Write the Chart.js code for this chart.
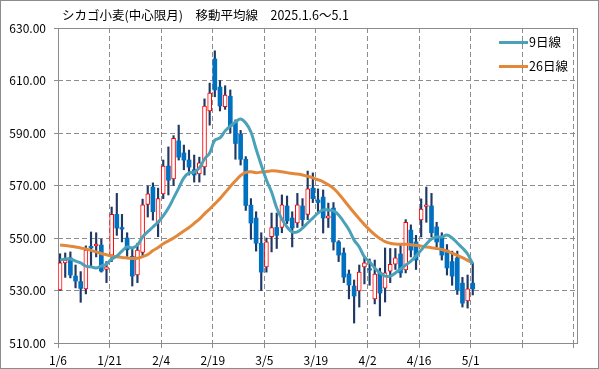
<!DOCTYPE html>
<html>
<head>
<meta charset="utf-8">
<script src="https://cdn.jsdelivr.net/npm/chart.js@4.4.1/dist/chart.umd.min.js"></script>
<style>
  html, body { margin: 0; padding: 0; background: #fff; }
  #wrap { width: 599px; height: 369px; box-sizing: border-box; border: 1px solid #8c8c8c; }
  canvas { display: block; }
</style>
</head>
<body>
<div id="wrap"><canvas id="chart" width="597" height="367"></canvas></div>
<script>
// tick labels, one every 10 trading days (last two gridlines have no label)
var xLabels = ['1/6', '1/21', '2/4', '2/19', '3/5', '3/19', '4/2', '4/16', '5/1', '', ''];
var yTicks = [510, 530, 550, 570, 590, 610, 630];

// daily candles, 1/6 .. 5/1
var opens = [530.2, 540.5, 542.4, 535.5, 533.4, 530.6, 546.8, 547.0, 547.3, 538.0,
  543.5, 559.0, 554.0, 550.0, 543.0, 535.9, 544.5, 562.8, 569.4, 555.7,
  566.8, 577.4, 572.5, 587.0, 582.4, 579.7, 576.0, 574.4, 577.1, 598.4,
  618.2, 607.5, 600.0, 604.0, 594.0, 589.5, 580.0, 562.5, 557.6, 548.0,
  539.0, 550.5, 554.0, 554.0, 562.2, 557.6, 555.7, 562.2, 559.0, 569.0,
  564.5, 565.6, 557.6, 561.4, 548.5, 544.3, 536.3, 531.7, 529.8, 539.0,
  538.3, 526.8, 537.0, 530.9, 537.4, 540.0, 543.9, 537.8, 553.0, 548.5,
  556.9, 562.0, 562.2, 554.2, 550.4, 545.4, 541.0, 542.4, 532.8, 526.0,
  532.8];
var highs = [544.0, 544.3, 544.7, 539.7, 537.2, 547.0, 552.3, 552.0, 549.6, 541.0,
  561.8, 567.0, 559.0, 552.0, 546.0, 548.0, 564.8, 569.8, 571.0, 569.0,
  579.7, 584.7, 589.0, 593.0, 585.4, 583.5, 581.6, 580.8, 603.0, 609.0,
  621.3, 610.0, 608.0, 606.4, 595.0, 591.0, 581.0, 565.0, 560.0, 552.0,
  550.0, 559.5, 559.5, 566.4, 566.0, 560.0, 567.0, 565.0, 575.5, 574.8,
  568.7, 568.3, 563.3, 563.5, 549.0, 546.2, 537.8, 534.0, 539.7, 542.8,
  542.0, 541.6, 538.5, 546.2, 546.0, 546.0, 547.3, 557.0, 555.0, 551.0,
  564.9, 569.4, 567.0, 556.0, 552.0, 547.5, 545.0, 545.0, 535.0, 535.9,
  540.5];
var lows = [530.0, 535.0, 534.8, 531.0, 525.5, 528.7, 539.0, 542.8, 537.0, 533.0,
  541.0, 551.0, 548.5, 543.0, 531.7, 533.0, 543.0, 558.0, 556.8, 550.5,
  565.0, 566.4, 570.0, 579.7, 576.0, 574.0, 571.3, 571.3, 574.0, 593.0,
  603.8, 598.4, 599.0, 590.0, 580.0, 577.8, 560.5, 549.5, 545.0, 530.0,
  537.0, 544.7, 546.0, 552.0, 555.5, 546.6, 554.0, 554.5, 557.0, 563.5,
  560.0, 551.9, 554.0, 545.4, 541.0, 533.0, 526.8, 517.6, 523.7, 532.5,
  532.0, 524.9, 520.3, 525.6, 533.0, 538.0, 535.0, 536.7, 542.8, 538.0,
  550.4, 556.0, 550.4, 546.5, 541.6, 535.9, 532.0, 528.5, 523.7, 523.3,
  528.3];
var closes = [540.5, 541.6, 535.9, 533.6, 530.8, 545.4, 546.2, 547.7, 537.4, 539.0,
  559.0, 553.8, 553.4, 545.5, 535.5, 545.4, 562.6, 566.8, 560.0, 565.0,
  577.4, 572.0, 588.0, 580.8, 579.7, 577.0, 574.0, 578.6, 600.3, 605.2,
  606.4, 600.3, 604.4, 592.5, 586.0, 580.0, 562.4, 555.7, 548.0, 537.0,
  548.5, 554.0, 551.0, 562.6, 556.5, 553.8, 562.6, 557.0, 568.7, 565.0,
  563.5, 557.6, 558.4, 548.5, 543.5, 535.1, 532.1, 527.9, 537.0, 540.5,
  537.8, 536.3, 529.0, 536.7, 540.0, 542.4, 536.7, 556.0, 545.4, 541.6,
  561.0, 562.6, 552.0, 548.5, 543.5, 538.6, 535.5, 530.2, 525.2, 530.6,
  530.6];

// moving averages
var ma9 = [541.6, 542.0, 542.0, 541.2, 540.5, 539.3, 539.0, 538.6, 539.3, 540.1,
  542.0, 543.1, 545.0, 546.6, 546.2, 547.3, 550.4, 552.4, 554.2, 556.1,
  558.4, 561.4, 565.2, 569.0, 572.9, 574.8, 575.1, 576.7, 580.1, 582.4,
  587.3, 588.1, 590.8, 592.7, 594.2, 595.3, 593.8, 590.4, 583.9, 577.8,
  572.1, 567.5, 561.4, 557.2, 554.2, 552.3, 552.3, 553.8, 555.7, 557.6,
  559.5, 560.7, 560.7, 560.3, 558.8, 556.1, 553.1, 549.2, 546.6, 542.8,
  540.9, 538.6, 536.7, 535.5, 535.5, 536.7, 538.2, 539.7, 541.2, 543.1,
  545.4, 547.7, 549.6, 550.4, 550.4, 551.1, 550.0, 548.1, 546.2, 543.9,
  540.1];
var ma26 = [547.3, 547.1, 546.9, 546.6, 546.2, 545.8, 545.3, 544.7, 544.1, 543.6,
  543.1, 542.9, 542.6, 542.4, 542.2, 542.3, 542.9, 543.7, 545.2, 546.4,
  547.8, 548.9, 550.0, 551.3, 552.7, 554.0, 555.6, 557.2, 559.2, 561.0,
  563.0, 565.0, 567.3, 569.6, 571.8, 573.8, 575.0, 575.2, 574.9, 575.1,
  575.3, 575.6, 575.5, 575.2, 574.9, 574.6, 574.4, 574.0, 573.5, 572.9,
  572.2, 571.4, 570.3, 568.9, 566.9, 564.5, 562.0, 559.6, 557.3, 555.1,
  553.1, 551.3, 549.8, 548.6, 548.0, 547.7, 547.6, 547.6, 547.4, 547.2,
  546.9, 546.6, 546.3, 546.0, 545.6, 545.0, 544.2, 543.4, 542.5, 541.5,
  540.5];

var RED = '#ff0000', BLUE = '#0070c0', WICK = '#1f3864';
var TEAL = '#4ba1b8', ORANGE = '#e3883a', GRID = '#8c8c8c';
var FONT = '"Noto Sans CJK JP", "Liberation Sans", sans-serif';

var wicks = [], bodies = [], bodyFill = [], bodyLine = [], bodyBorder = [];
var line9 = [], line26 = [];
for (var i = 0; i < opens.length; i++) {
  var up = closes[i] >= opens[i];
  wicks.push({x: i, y: [lows[i], highs[i]]});
  bodies.push({x: i, y: [opens[i], closes[i]]});
  bodyFill.push(up ? '#ffffff' : BLUE);
  bodyLine.push(up ? RED : BLUE);
  bodyBorder.push(up ? 1 : 0);
  line9.push({x: i, y: ma9[i]});
  line26.push({x: i, y: ma26[i]});
}

// frame round the plot, title and the little legend in the corner
var decor = {
  id: 'decor',
  beforeDatasetsDraw: function(chart) {
    var a = chart.chartArea, ctx = chart.ctx;
    ctx.save();
    ctx.strokeStyle = GRID;
    ctx.lineWidth = 1;
    ctx.strokeRect(a.left + 0.5, a.top + 0.5, a.right - a.left - 1, a.bottom - a.top);
    ctx.restore();
  },
  afterDraw: function(chart) {
    var ctx = chart.ctx;
    ctx.save();
    ctx.fillStyle = '#000';
    ctx.textBaseline = 'middle';
    ctx.textAlign = 'left';
    ctx.font = '12.5px ' + FONT;
    ctx.fillText('シカゴ小麦(中心限月)\u3000移動平均線\u30002025.1.6～5.1', 61, 14);

    var items = [['9日線', TEAL, 41.5], ['26日線', ORANGE, 65.5]];
    items.forEach(function(it) {
      ctx.strokeStyle = it[1];
      ctx.lineWidth = 3;
      ctx.beginPath();
      ctx.moveTo(498, it[2]);
      ctx.lineTo(527, it[2]);
      ctx.stroke();
      ctx.fillText(it[0], 528, it[2]);
    });
    ctx.restore();
  }
};

new Chart(document.getElementById('chart'), {
  type: 'bar',
  data: {
    datasets: [
      {type: 'line', label: '9日線', data: line9, borderColor: TEAL, borderWidth: 3,
        pointRadius: 0, tension: 0.4, order: 0},
      {type: 'line', label: '26日線', data: line26, borderColor: ORANGE, borderWidth: 3,
        pointRadius: 0, tension: 0.4, order: 1},
      {label: 'body', data: bodies, backgroundColor: bodyFill, borderColor: bodyLine,
        borderWidth: bodyBorder, borderSkipped: false, barThickness: 4, grouped: false, order: 2},
      {label: 'wick', data: wicks, backgroundColor: WICK, borderWidth: 0,
        barThickness: 1.5, grouped: false, order: 3}
    ]
  },
  options: {
    responsive: false,
    animation: false,
    layout: {padding: {top: 27, right: 20, left: 0, bottom: 0}},
    plugins: {legend: {display: false}, tooltip: {enabled: false}, title: {display: false}},
    scales: {
      x: {
        type: 'linear',
        offset: false,
        min: -0.4,
        max: 100.4,
        afterBuildTicks: function(s) {
          s.ticks = xLabels.map(function(l, k) { return {value: k * 10 - 0.4}; });
        },
        afterFit: function(s) {
          s.height = 25;
          s.paddingLeft = 0;
          s.paddingRight = 0;
        },
        grid: {color: GRID, tickLength: 5, tickColor: GRID, offset: false},
        border: {display: false, dash: [5, 3]},
        ticks: {
          color: '#000',
          padding: 5,
          maxRotation: 0,
          autoSkip: false,
          font: {family: FONT, size: 12},
          callback: function(v, k) { return xLabels[k]; }
        }
      },
      y: {
        min: 510,
        max: 630,
        afterBuildTicks: function(s) {
          s.ticks = yTicks.map(function(v) { return {value: v}; });
        },
        afterFit: function(s) { s.width = 57; },
        grid: {color: GRID, tickLength: 4, tickColor: GRID},
        border: {display: false, dash: [5, 3]},
        ticks: {
          color: '#000',
          padding: 8,
          font: {family: FONT, size: 12},
          callback: function(v) { return v.toFixed(2); }
        }
      }
    }
  },
  plugins: [decor]
});
</script>
</body>
</html>
